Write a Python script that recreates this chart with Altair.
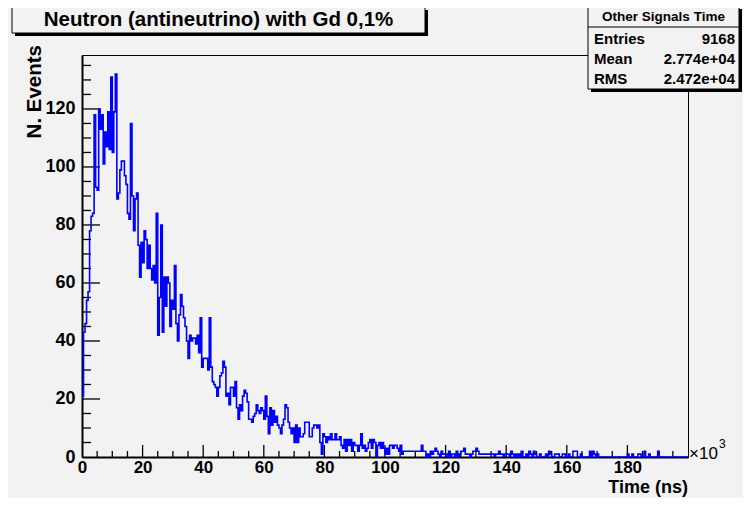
import altair as alt
import pandas as pd

# ---------------- data (bin contents, bin width 0.5 x10^3 ns) ----------------
bin_width = 0.5
counts_000_049 = [21, 43, 46, 54, 57, 78, 83, 84, 118, 93,
                  92, 120, 113, 118, 101, 112, 107, 119, 106, 131,
                  105, 119, 132, 89, 91, 99, 102, 102, 97, 94,
                  84, 82, 115, 90, 78, 89, 91, 73, 62, 74,
                  67, 78, 75, 65, 73, 65, 61, 66, 60, 84]
counts_050_099 = [42, 55, 80, 43, 62, 52, 62, 60, 45, 54,
                  51, 66, 46, 40, 49, 56, 52, 48, 45, 40,
                  34, 42, 40, 41, 41, 39, 42, 36, 48, 31,
                  34, 34, 34, 30, 48, 31, 26, 25, 24, 21,
                  24, 28, 29, 33, 31, 21, 22, 18, 24, 24]
counts_100_199 = [21, 26, 17, 13, 18, 16, 21, 23, 22, 19,
                  13, 13, 12, 14, 15, 18, 16, 15, 17, 16,
                  13, 21, 14, 8, 17, 11, 16, 12, 14, 11,
                  10, 8, 11, 13, 18, 17, 12, 10, 8, 10,
                  5, 11, 5, 10, 7, 7, 8, 12, 12, 12,
                  7, 7, 10, 11, 11, 10, 11, 5, 1, 8,
                  7, 5, 7, 6, 8, 6, 6, 8, 6, 6,
                  7, 4, 3, 6, 2, 6, 4, 6, 2, 5,
                  4, 4, 2, 4, 8, 3, 4, 2, 3, 5,
                  6, 3, 6, 5, 0, 4, 5, 3, 5, 3]
counts_200_299 = [1, 3, 1, 4, 4, 3, 4, 4, 3, 2,
                  4, 1, 2, 2, 2, 2, 2, 2, 2, 2,
                  2, 2, 2, 2, 4, 2, 2, 0, 1, 0,
                  2, 1, 2, 3, 2, 1, 0, 2, 1, 1,
                  1, 0, 2, 0, 1, 1, 0, 2, 0, 1,
                  2, 2, 3, 1, 1, 1, 0, 1, 2, 2,
                  3, 2, 1, 1, 1, 1, 1, 1, 1, 1,
                  1, 1, 0, 1, 1, 2, 1, 1, 0, 1,
                  1, 1, 0, 2, 1, 0, 1, 0, 1, 0,
                  2, 0, 0, 1, 0, 2, 1, 0, 2, 1]
counts_300_399 = [0, 0, 1, 0, 0, 0, 1, 0, 2, 1,
                  0, 0, 1, 1, 1, 0, 0, 1, 1, 0,
                  0, 1, 0, 0, 2, 2, 2, 0, 0, 1,
                  0, 0, 0, 0, 0, 2, 0, 2, 1, 0,
                  1, 0, 0, 0, 0, 0, 0, 0, 0, 0,
                  0, 0, 0, 0, 0, 0, 0, 0, 0, 0,
                  1, 0, 0, 1, 0, 0, 0, 1, 1, 0,
                  0, 2, 0, 0, 1, 0, 0, 0, 0, 0,
                  2, 0, 0, 0, 0, 0, 0, 0, 0, 0,
                  0, 0, 0, 0, 0, 0, 0, 0, 0, 0]

x_tick_labels = [0, 20, 40, 60, 80, 100, 120, 140, 160, 180]
y_tick_labels = [0, 20, 40, 60, 80, 100, 120]

title_text = "Neutron (antineutrino) with Gd 0,1%"
stats_title = "Other Signals Time"
stats_names = ["Entries", "Mean", "RMS"]
stats_values = ["9168", "2.774e+04", "2.472e+04"]

# ---------------- build table ----------------
counts = counts_000_049 + counts_050_099 + counts_100_199 + counts_200_299 + counts_300_399
edges = [i * bin_width for i in range(len(counts) + 1)]
hist = pd.DataFrame({"t": edges, "n": counts + [counts[-1]]})

W, H = 606, 402
FONT = "Liberation Sans"
BG = "#f2f2f2"

xs = alt.Scale(domain=[0, 200], nice=False, zero=False)
ys = alt.Scale(domain=[0, 138.6], nice=False)

line = alt.Chart(hist).mark_line(
    interpolate="step-after", color="#0000ff", strokeWidth=1.6, clip=True
).encode(
    x=alt.X("t:Q", scale=xs, axis=alt.Axis(
        values=x_tick_labels, title=None, ticks=False, grid=False,
        domainColor="black", domainWidth=2, labelFont=FONT, labelFontWeight="bold",
        labelFontSize=17, labelColor="black", labelPadding=2, labelFlush=False)),
    y=alt.Y("n:Q", scale=ys, axis=alt.Axis(
        values=y_tick_labels, title=None, ticks=False, grid=False,
        domainColor="black", domainWidth=2, labelFont=FONT, labelFontWeight="bold",
        labelFontSize=18, labelColor="black", labelPadding=7)),
)

# inner ticks (ROOT style)
x_major = pd.DataFrame({"v": [v for v in range(20, 200, 20)]})
x_minor = pd.DataFrame({"v": [v for v in range(5, 200, 5) if v % 20 != 0]})
y_major = pd.DataFrame({"v": [v for v in range(20, 139, 20)]})
y_minor = pd.DataFrame({"v": [v for v in range(5, 139, 5) if v % 20 != 0]})

def xticks(df, length):
    return alt.Chart(df).mark_rule(color="black", strokeWidth=1.3).encode(
        x=alt.X("v:Q", scale=xs), y=alt.value(H), y2=alt.value(H - length))

def yticks(df, length):
    return alt.Chart(df).mark_rule(color="black", strokeWidth=1.3).encode(
        y=alt.Y("v:Q", scale=ys), x=alt.value(0), x2=alt.value(length))

one = pd.DataFrame({"a": [0]})

def box(x1, y1, x2, y2, fill, stroke=None):
    kw = dict(fill=fill)
    if stroke:
        kw.update(stroke=stroke, strokeWidth=1)
    return alt.Chart(one).mark_rect(**kw).encode(
        x=alt.value(x1), x2=alt.value(x2), y=alt.value(y1), y2=alt.value(y2))

def text(s, x, y, size, align="left", weight="bold", angle=0, baseline="middle"):
    kw = dict(text=s, font=FONT, fontSize=size, fontWeight=weight, color="black",
              align=align, baseline=baseline)
    if angle:
        kw["angle"] = angle
    return alt.Chart(one).mark_text(**kw).encode(x=alt.value(x), y=alt.value(y))

# origin of plot area is page (82, 55)
PAD_L, PAD_T = 74, 47
ox, oy = 8 + PAD_L, 8 + PAD_T
sx0, sx1 = 588, 739   # stats box horizontal extent (page px)
layers = [
    xticks(x_major, 12), xticks(x_minor, 6),
    yticks(y_major, 18), yticks(y_minor, 9),
    line,
    # title pave
    box(12 - ox + 3, 7 - oy + 3, 425 - ox + 3, 33 - oy + 3, "black"),
    box(12 - ox, 7 - oy, 425 - ox, 33 - oy, BG, "black"),
    text(title_text, (12 + 425) / 2 - ox, 20 - oy, 20.5, align="center"),
    # stats box
    box(sx0 - ox + 3, 6 - oy + 3, sx1 - ox + 3, 89 - oy + 3, "black"),
    box(sx0 - ox, 6 - oy, sx1 - ox, 89 - oy, BG, "black"),
    alt.Chart(one).mark_rule(color="black", strokeWidth=1).encode(
        x=alt.value(sx0 - ox), x2=alt.value(sx1 - ox), y=alt.value(27 - oy)),
    text(stats_title, (sx0 + sx1) / 2 - ox, 17 - oy, 13.5, align="center"),
]
for i, (nm, val) in enumerate(zip(stats_names, stats_values)):
    yy = [39, 59, 79][i] - oy
    layers.append(text(nm, sx0 + 6 - ox, yy, 15))
    layers.append(text(val, sx1 - 4 - ox, yy, 15, align="right"))

layers += [
    text("N. Events", 35 - ox, 45 - oy, 20.5, align="right", angle=270),
    text("Time (ns)", 688 - ox, H + 36, 18, align="right", baseline="alphabetic"),
    text("\u00d710", 689 - ox, H + 2, 17, baseline="alphabetic", weight="normal"),
    text("3", 719 - ox, H - 9, 12, baseline="alphabetic", weight="normal"),
]

chart = alt.layer(*layers).properties(
    width=W, height=H,
    autosize=alt.AutoSizeParams(type="none"),
    padding={"left": PAD_L, "top": PAD_T, "right": 735 - PAD_L - W, "bottom": 490 - PAD_T - H},
    background=BG,
).configure_view(stroke="black", strokeWidth=1)

chart.save("out.html", embed_options={"renderer": "svg", "actions": False})
